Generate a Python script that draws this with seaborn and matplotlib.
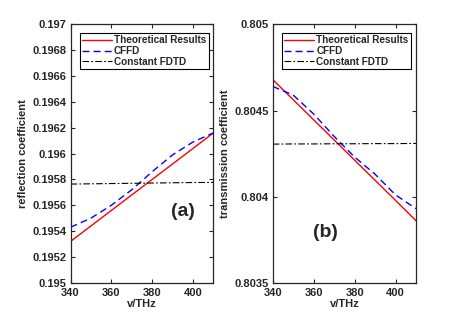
import numpy as np
import pandas as pd
import matplotlib
matplotlib.use("Agg")
import matplotlib.pyplot as plt
import seaborn as sns

freq = [340, 350, 360, 370, 380, 390, 400, 410]
# panel (a) reflection coefficient
refl_theory = [0.19532, 0.19544, 0.19556, 0.19568, 0.19580, 0.19592, 0.19604, 0.19616]
refl_cffd = [0.19543, 0.19550, 0.19560, 0.19572, 0.19586, 0.19599, 0.19609, 0.19616]
refl_const = [0.195764, 0.195766, 0.195768, 0.195770, 0.195772, 0.195774, 0.195776, 0.195777]
# panel (b) transmission coefficient
trans_theory = [0.80468, 0.804563, 0.804446, 0.804329, 0.804212, 0.804095, 0.803978, 0.80386]
trans_cffd = [0.80464, 0.80459, 0.80448, 0.80435, 0.80423, 0.80413, 0.80401, 0.80393]
trans_const = [0.804305, 0.804306, 0.804306, 0.804307, 0.804307, 0.804308, 0.804308, 0.804309]

series_names = ["Theoretical Results", "CFFD", "Constant FDTD"]
x_ticks = [340, 360, 380, 400]
refl_ticks = [0.195, 0.1952, 0.1954, 0.1956, 0.1958, 0.196, 0.1962, 0.1964, 0.1966, 0.1968, 0.197]
refl_ticklabels = ["0.195", "0.1952", "0.1954", "0.1956", "0.1958", "0.196", "0.1962", "0.1964", "0.1966", "0.1968", "0.197"]
trans_ticks = [0.8035, 0.804, 0.8045, 0.805]
trans_ticklabels = ["0.8035", "0.804", "0.8045", "0.805"]

sns.set_style("ticks")
plt.rcParams['font.family'] = ['Liberation Sans', 'DejaVu Sans']
plt.rcParams['font.weight'] = 'bold'
plt.rcParams['axes.labelweight'] = 'bold'

fig = plt.figure(figsize=(4.61, 3.17), dpi=100)
ax1 = fig.add_axes([0.153, 0.108, 0.310, 0.815])
ax2 = fig.add_axes([0.5915, 0.108, 0.311, 0.815])

colors = {"Theoretical Results": "#ff0000", "CFFD": "#0000ff", "Constant FDTD": "#000000"}
styles = {"Theoretical Results": "-", "CFFD": (0, (5, 3)), "Constant FDTD": (0, (6, 2, 1.5, 2))}
widths = {"Theoretical Results": 1.0, "CFFD": 1.0, "Constant FDTD": 0.8}

def make_df(a, b, c):
    return pd.DataFrame({
        "freq": freq * 3,
        "val": list(a) + list(b) + list(c),
        "series": [series_names[0]] * len(freq) + [series_names[1]] * len(freq) + [series_names[2]] * len(freq),
    })

panels = [
    (ax1, make_df(refl_theory, refl_cffd, refl_const), "reflection coefficient",
     (0.195, 0.197), refl_ticks, refl_ticklabels, "(a)", (395, 0.19555)),
    (ax2, make_df(trans_theory, trans_cffd, trans_const), "transmission coefficient",
     (0.8035, 0.805), trans_ticks, trans_ticklabels, "(b)", (365.6, 0.80379)),
]

FS = 8
for ax, df, ylab, ylim, yt, ytl, tag, tpos in panels:
    for name in series_names:
        sub = df[df.series == name]
        sns.lineplot(data=sub, x="freq", y="val", ax=ax, color=colors[name],
                     linestyle=styles[name], linewidth=widths[name], label=name)
    ax.set_xlim(340, 410)
    ax.set_ylim(*ylim)
    ax.set_xticks(x_ticks)
    ax.set_xticklabels([str(t) for t in x_ticks], fontsize=FS, fontweight='bold')
    ax.set_yticks(yt)
    ax.set_yticklabels(ytl, fontsize=FS, fontweight='bold')
    ax.set_xlabel("v/THz", fontsize=FS, fontweight='bold', labelpad=1)
    ax.set_ylabel(ylab, fontsize=FS, fontweight='bold', labelpad=3)
    ax.tick_params(direction='in', top=True, right=True, length=3, width=0.8,
                   colors='#262626')
    ax.tick_params(axis='y', pad=3)
    ax.tick_params(axis='x', pad=3.5)
    for s in ax.spines.values():
        s.set_visible(True)
        s.set_linewidth(0.9)
        s.set_color('#262626')
    ax.text(tpos[0], tpos[1], tag, fontsize=14, fontweight='bold', ha='center', va='center')
    leg = ax.legend(loc='upper center', bbox_to_anchor=(0.515, 0.975), fontsize=7.2,
                    frameon=True, fancybox=False, edgecolor='black', framealpha=1,
                    handlelength=3.0, handletextpad=0.2, borderpad=0.25,
                    labelspacing=0.08, borderaxespad=0.2)
    leg.get_frame().set_linewidth(0.8)
    for t in leg.get_texts():
        t.set_fontweight('bold')

fig.savefig("out.png", dpi=100)
